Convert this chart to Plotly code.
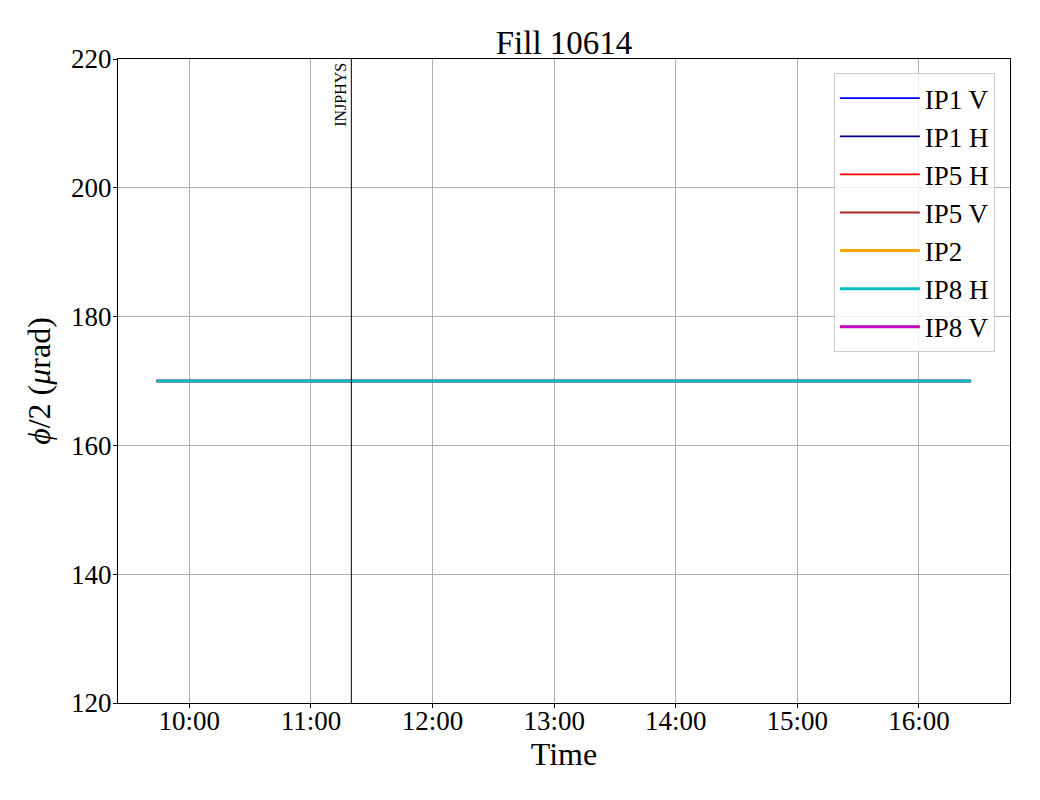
import plotly.graph_objects as go

# Data
series_names = ["IP1 V", "IP1 H", "IP5 H", "IP5 V", "IP2", "IP8 H", "IP8 V"]
series_colors = ["#0000ff", "#00008b", "#ff0000", "#b22222", "#ffa500", "#00bfbf", "#bf00bf"]
series_widths = [1.8, 1.8, 1.8, 1.8, 3, 3, 3]
times = ["2025-05-20 09:43:54", "2025-05-20 16:25:42"]
crossing_angle = [170, 170]
mode_time = "2025-05-20 11:19:56"
mode_label = "INJPHYS"
tick_vals = ["2025-05-20 %02d:00" % h for h in range(10, 17)]
tick_text = ["%02d:00" % h for h in range(10, 17)]
x_range = ["2025-05-20 09:24:48", "2025-05-20 16:44:56"]
y_range = [120, 220]

FONT = "Liberation Serif, Times New Roman, serif"

fig = go.Figure()
# draw order: IP8 H on top
draw_order = [0, 1, 2, 3, 4, 6, 5]
for i in draw_order:
    fig.add_trace(go.Scatter(
        x=times, y=crossing_angle, mode="lines", name=series_names[i],
        line=dict(color=series_colors[i], width=series_widths[i]),
        legendrank=i + 1,
    ))

fig.add_shape(type="line", xref="x", yref="paper", x0=mode_time, x1=mode_time,
              y0=0, y1=1, line=dict(color="black", width=1))
fig.add_annotation(x=mode_time, y=1, xref="x", yref="paper", text=mode_label,
                   textangle=-90, showarrow=False, xanchor="right", yanchor="top",
                   xshift=-1, yshift=-2, font=dict(family=FONT, size=16, color="black"))

axis_common = dict(showgrid=True, gridcolor="#b0b0b0", gridwidth=0.8,
                   showline=True, linecolor="black", linewidth=1, mirror=True,
                   ticks="outside", ticklen=4, tickcolor="black",
                   tickfont=dict(family=FONT, size=27, color="black"), zeroline=False)

fig.update_layout(
    width=1040, height=800,
    margin=dict(l=110, r=38, t=51, b=105),
    paper_bgcolor="white", plot_bgcolor="white",
    title=dict(text="Fill 10614", x=0.5, xref="paper", xanchor="center",
               y=1 - 34 / 800, yanchor="middle",
               font=dict(family=FONT, size=33, color="black")),
    xaxis=dict(range=x_range, tickvals=tick_vals, ticktext=tick_text, ticklabelstandoff=-10,
               title=dict(text="Time", font=dict(family=FONT, size=32, color="black"), standoff=4),
               **axis_common),
    yaxis=dict(range=y_range, dtick=20, tick0=120, ticklabelstandoff=-4,
               title=dict(text="<i>ϕ</i>/2 (<i>μ</i>rad)", font=dict(family=FONT, size=32, color="black"), standoff=10),
               **axis_common),
    legend=dict(x=0.983, y=0.978, xanchor="right", yanchor="top", itemwidth=80,
                bgcolor="rgba(255,255,255,0.8)", bordercolor="#cccccc", borderwidth=1,
                font=dict(family=FONT, size=27, color="black")),
    showlegend=True,
)

fig.write_html("out.html")
